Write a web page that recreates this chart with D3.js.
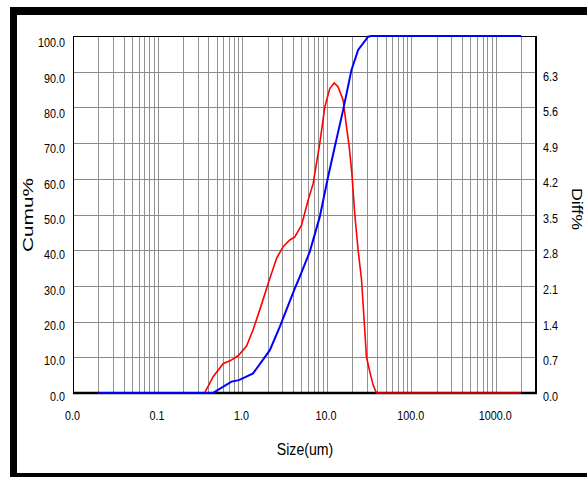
<!DOCTYPE html>
<html>
<head>
<meta charset="utf-8">
<script src="https://cdn.jsdelivr.net/npm/d3@7"></script>
<style>
  html, body { margin: 0; padding: 0; background: #fff; }
  svg { display: block; }
  text { font-family: "Liberation Sans", Arial, sans-serif; fill: #000; }
</style>
</head>
<body>
<svg id="chart" width="587" height="477"></svg>
<script>
// particle size (um) and cumulative % (blue)
const cumuSize = [0.02, 0.45, 0.6, 0.75, 0.92, 1.35, 2.13, 2.8, 4.21, 4.82, 6.33, 8.31, 10.4, 12.5, 15.7, 19.7, 23.6, 31, 33.5, 2000];
const cumuValue = [0, 0, 1.8, 3.2, 3.6, 5.5, 12, 18.6, 29.3, 32.6, 39.6, 49.4, 60.5, 69, 79.3, 90.5, 96.1, 99.8, 100, 100];

// particle size (um) and differential % (red)
const diffSize = [0.02, 0.36, 0.455, 0.6, 0.72, 0.9, 1.13, 1.35, 1.62, 2.04, 2.56, 3.06, 3.67, 4.21, 5.05, 6.04, 6.92, 8.31, 9.53, 10.9, 12.3, 13.7, 15.7, 17.2, 18.5, 19.9, 21.5, 23.6, 25.9, 27.8, 29.6, 32.4, 35.5, 38.9, 2000];
const diffValue = [0, 0, 0.32, 0.58, 0.63, 0.73, 0.92, 1.24, 1.63, 2.15, 2.64, 2.87, 3.0, 3.06, 3.29, 3.78, 4.1, 4.9, 5.61, 5.97, 6.08, 6.0, 5.74, 5.22, 4.83, 4.31, 3.52, 2.8, 2.22, 1.43, 0.71, 0.42, 0.16, 0, 0];

const xTickValues = [0.01, 0.1, 1, 10, 100, 1000];
const leftTicks = [0, 10, 20, 30, 40, 50, 60, 70, 80, 90, 100];
const rightTicks = [0, 0.7, 1.4, 2.1, 2.8, 3.5, 4.2, 4.9, 5.6, 6.3];

const svg = d3.select('#chart');
const plotLeft = 73, plotRight = 536, plotTop = 36, plotBottom = 393;
const squeeze = 0.83; // labels in the original are drawn narrow

const x = d3.scaleLog().domain([0.01, 3000]).range([plotLeft, plotRight]);
const yL = d3.scaleLinear().domain([0, 100]).range([plotBottom, plotTop]);
const yR = d3.scaleLinear().domain([0, 7]).range([plotBottom, plotTop]);
// label positions sit a little below their grid lines
const yLText = d3.scaleLinear().domain([0, 100]).range([plotBottom + 3, plotTop + 6.5]);
const yRText = d3.scaleLinear().domain([0, 7]).range([plotBottom + 3, plotTop + 4.5]);

// outer frame
svg.append('rect').attr('x', 10).attr('y', 7).attr('width', 577).attr('height', 8).attr('fill', '#000');
svg.append('rect').attr('x', 10).attr('y', 7).attr('width', 7).attr('height', 470).attr('fill', '#000');
svg.append('rect').attr('x', 10).attr('y', 473).attr('width', 577).attr('height', 4).attr('fill', '#000');

// vertical grid: every log step up to 2000
const gridX = [];
for (let p = -2; p <= 2; p++) {
    for (let m = 1; m <= 9; m++) gridX.push(m * Math.pow(10, p));
}
gridX.push(1000, 2000);

svg.append('g')
    .selectAll('line')
    .data(gridX.filter(d => d > 0.01))
    .join('line')
    .attr('x1', d => Math.round(x(d)) + 0.5)
    .attr('x2', d => Math.round(x(d)) + 0.5)
    .attr('y1', plotTop)
    .attr('y2', plotBottom)
    .attr('stroke', '#929292')
    .attr('stroke-width', 1);

// horizontal grid
svg.append('g')
    .selectAll('line')
    .data(leftTicks.filter(d => d > 0 && d < 100))
    .join('line')
    .attr('x1', plotLeft)
    .attr('x2', plotRight)
    .attr('y1', d => Math.round(yL(d)) + 0.5)
    .attr('y2', d => Math.round(yL(d)) + 0.5)
    .attr('stroke', '#8a8a8a')
    .attr('stroke-width', 1);

// plot border
svg.append('line').attr('x1', plotLeft).attr('x2', plotRight).attr('y1', plotTop + 0.5).attr('y2', plotTop + 0.5).attr('stroke', '#000');
svg.append('line').attr('x1', plotLeft + 0.5).attr('x2', plotLeft + 0.5).attr('y1', plotTop).attr('y2', plotBottom).attr('stroke', '#000');
svg.append('line').attr('x1', plotRight).attr('x2', plotRight).attr('y1', plotTop).attr('y2', plotBottom + 1).attr('stroke', '#000').attr('stroke-width', 2);
svg.append('line').attr('x1', plotLeft).attr('x2', plotRight + 1).attr('y1', plotBottom).attr('y2', plotBottom).attr('stroke', '#000').attr('stroke-width', 2.5);

// axes (labels only), squeezed horizontally
function narrowLabels(g, offset) {
    g.select('.domain').remove();
    g.selectAll('text')
        .style('font-size', '13px')
        .attr('x', offset / squeeze)
        .attr('transform', `scale(${squeeze},1)`);
}

svg.append('g')
    .attr('transform', `translate(${plotLeft},0)`)
    .call(d3.axisLeft(yLText).tickValues(leftTicks).tickSize(0).tickFormat(d => d.toFixed(1)))
    .call(g => narrowLabels(g, -8));

svg.append('g')
    .attr('transform', `translate(${plotRight},0)`)
    .call(d3.axisRight(yRText).tickValues(rightTicks).tickSize(0).tickFormat(d => d.toFixed(1)))
    .call(g => narrowLabels(g, 7));

svg.append('g')
    .attr('transform', `translate(-1,${plotBottom})`)
    .call(d3.axisBottom(x).tickValues(xTickValues).tickSize(0).tickPadding(18).tickFormat(d => d.toFixed(1)))
    .call(g => narrowLabels(g, 0));

// series
const diffLine = d3.line().x((d, i) => x(diffSize[i])).y(d => yR(d));
const cumuLine = d3.line().x((d, i) => x(cumuSize[i])).y(d => yL(d));

svg.append('path')
    .attr('d', diffLine(diffValue))
    .attr('fill', 'none')
    .attr('stroke', '#ff0000')
    .attr('stroke-width', 1.6);

svg.append('path')
    .attr('d', cumuLine(cumuValue))
    .attr('fill', 'none')
    .attr('stroke', '#0000ff')
    .attr('stroke-width', 2);

// titles
svg.append('text')
    .attr('transform', 'translate(33,215) rotate(-90)')
    .attr('text-anchor', 'middle')
    .attr('textLength', 74)
    .attr('lengthAdjust', 'spacingAndGlyphs')
    .style('font-size', '15px')
    .text('Cumu%');

svg.append('text')
    .attr('transform', 'translate(572,209) rotate(90)')
    .attr('text-anchor', 'middle')
    .attr('textLength', 42)
    .attr('lengthAdjust', 'spacingAndGlyphs')
    .style('font-size', '15px')
    .text('Diff%');

svg.append('text')
    .attr('transform', `translate(305,455) scale(${squeeze},1)`)
    .attr('text-anchor', 'middle')
    .style('font-size', '17px')
    .text('Size(um)');
</script>
</body>
</html>
